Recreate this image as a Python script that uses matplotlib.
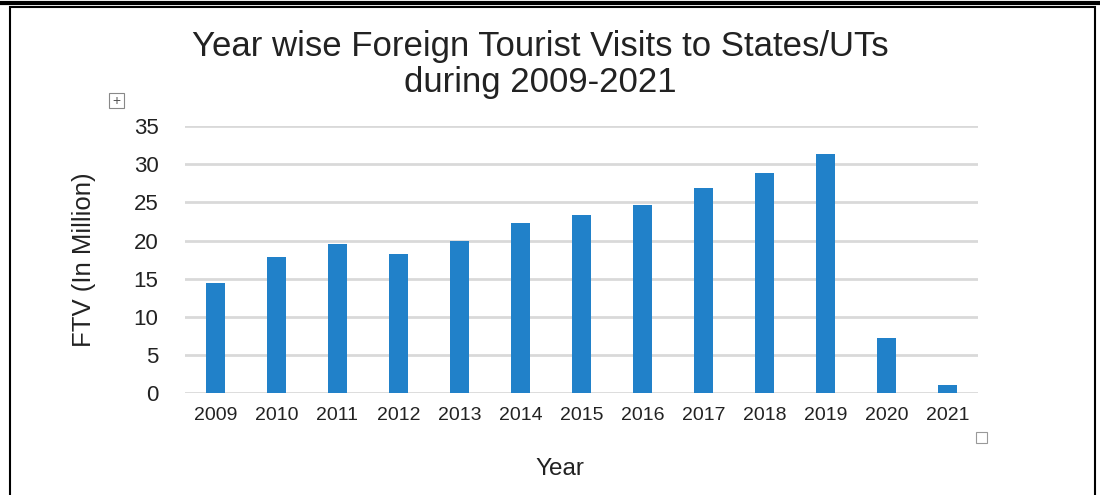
import matplotlib.pyplot as plt
import matplotlib.patches as pat
import numpy as np

plt.rcParams['font.family'] = ['Liberation Sans', 'DejaVu Sans']

# Foreign Tourist Visits, in million
years = ['2009', '2010', '2011', '2012', '2013', '2014', '2015',
         '2016', '2017', '2018', '2019', '2020', '2021']
ftv = [14.37, 17.91, 19.50, 18.26, 19.95, 22.33, 23.33,
       24.72, 26.94, 28.87, 31.41, 7.17, 1.05]
yticks = [0, 5, 10, 15, 20, 25, 30, 35]

fig = plt.figure(figsize=(11, 4.95), dpi=100)
ax = fig.add_axes([0.168, 0.206, 0.721, 0.539])

x = np.arange(len(years))
ax.bar(x, ftv, width=0.31, color='#2181c9', zorder=3)

ax.set_xlim(-0.5, len(years) - 0.5)
ax.set_ylim(0, 35)
ax.set_yticks(yticks)
ax.set_xticks(x)
ax.set_xticklabels(years)
ax.grid(axis='y', color='#d9d9d9', linewidth=2, zorder=0)
for s in ax.spines.values():
    s.set_visible(False)
ax.tick_params(axis='y', length=0, pad=19, labelsize=16, labelcolor='#222222')
ax.tick_params(axis='x', length=0, pad=10, labelsize=14, labelcolor='#222222')

ax.set_ylabel('FTV (In Million)', fontsize=18.5, color='#222222', labelpad=27)
ax.set_xlabel('Year', fontsize=17.5, color='#222222', labelpad=24)
ax.xaxis.set_label_coords(0.473, -0.245)

fig.text(0.491, 0.80, 'Year wise Foreign Tourist Visits to States/UTs\nduring 2009-2021',
         ha='center', va='bottom', fontsize=25, color='#222222', linespacing=1.12)

# frame around the picture
fig.add_artist(pat.Rectangle((10 / 1100, -0.01), 1085 / 1100, 0.995,
                             transform=fig.transFigure, fill=False,
                             edgecolor='black', linewidth=1.5))
fig.add_artist(plt.Line2D([0, 1], [0.993, 0.993], transform=fig.transFigure,
                          color='black', linewidth=3))

# little editor handles
fig.add_artist(pat.Rectangle((109 / 1100, 1 - 108 / 495), 15 / 1100, 15 / 495,
                             transform=fig.transFigure, fill=False,
                             edgecolor='#888888', linewidth=0.8))
fig.text(116.5 / 1100, 1 - 100.5 / 495, '+', ha='center', va='center',
         fontsize=10, color='#555555')
fig.add_artist(pat.Rectangle((976 / 1100, 1 - 443 / 495), 11 / 1100, 11 / 495,
                             transform=fig.transFigure, fill=False,
                             edgecolor='#999999', linewidth=0.8))

fig.savefig('out.png', dpi=100)
